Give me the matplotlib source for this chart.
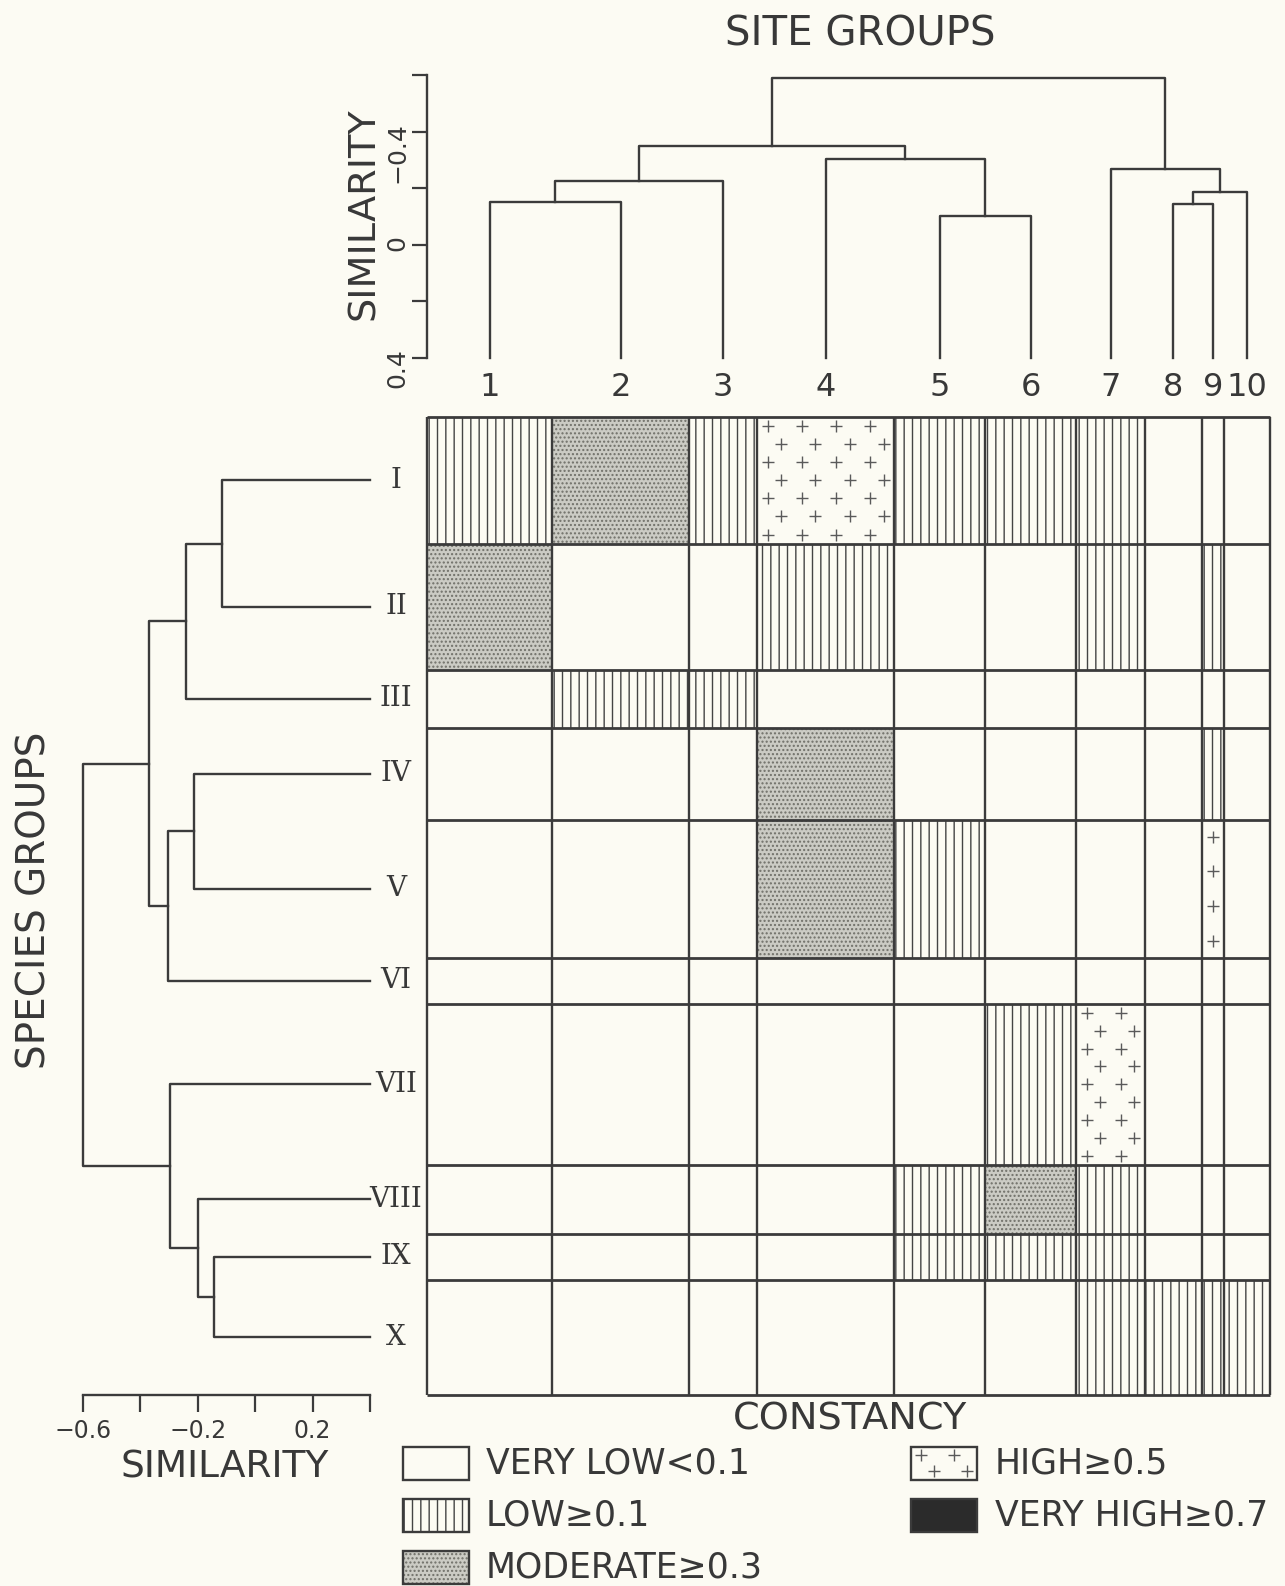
import numpy as np
import matplotlib
matplotlib.use("Agg")
import matplotlib.pyplot as plt
from matplotlib.patches import Rectangle

# ---- data ----
site_labels = ["1", "2", "3", "4", "5", "6", "7", "8", "9", "10"]
site_sizes = [11, 12, 6, 12, 8, 8, 6, 5, 2, 4]

species_labels = ["I", "II", "III", "IV", "V", "VI", "VII", "VIII", "IX", "X"]
species_sizes = [11, 11, 5, 8, 12, 4, 14, 6, 4, 10]

# constancy class: 0 very low, 1 low, 2 moderate, 3 high, 4 very high
constancy = [
    [1, 2, 1, 3, 1, 1, 1, 0, 0, 0],  # I
    [2, 0, 0, 1, 0, 0, 1, 0, 1, 0],  # II
    [0, 1, 1, 0, 0, 0, 0, 0, 0, 0],  # III
    [0, 0, 0, 2, 0, 0, 0, 0, 1, 0],  # IV
    [0, 0, 0, 2, 1, 0, 0, 0, 3, 0],  # V
    [0, 0, 0, 0, 0, 0, 0, 0, 0, 0],  # VI
    [0, 0, 0, 0, 0, 1, 3, 0, 0, 0],  # VII
    [0, 0, 0, 0, 1, 2, 1, 0, 0, 0],  # VIII
    [0, 0, 0, 0, 1, 1, 1, 0, 0, 0],  # IX
    [0, 0, 0, 0, 0, 0, 1, 1, 1, 1],  # X
]

# linkage: (child a, child b, similarity); new clusters numbered from 10
site_links = [
    (0, 1, -0.153),
    (10, 2, -0.227),
    (4, 5, -0.100),
    (3, 12, -0.302),
    (11, 13, -0.350),
    (7, 8, -0.143),
    (15, 9, -0.187),
    (6, 16, -0.268),
    (14, 17, -0.590),
]
species_links = [
    (0, 1, -0.115),
    (10, 2, -0.242),
    (3, 4, -0.214),
    (12, 5, -0.302),
    (11, 13, -0.368),
    (8, 9, -0.144),
    (7, 15, -0.200),
    (6, 16, -0.295),
    (14, 17, -0.600),
]
leaf_similarity = 0.4

sim_ticks = [-0.6, -0.4, -0.2, 0, 0.2, 0.4]
top_tick_labels = ["", "\u22120.4", "", "0", "", "0.4"]
left_tick_labels = ["\u22120.6", "", "\u22120.2", "", "0.2", ""]

legend_labels = ["VERY LOW<0.1", "LOW\u22650.1", "MODERATE\u22650.3",
                 "HIGH\u22650.5", "VERY HIGH\u22650.7"]
legend_levels = [0, 1, 2, 3, 4]

# ---- style ----
BG = "#fcfbf3"
INK = "#3b3b3b"
TXT = "#383838"
plt.rcParams["hatch.linewidth"] = 1.0
plt.rcParams["font.family"] = ["DejaVu Sans"]

W, H = 1285, 1586
fig = plt.figure(figsize=(W / 100, H / 100), dpi=100, facecolor=BG)


def fbox(x0, y0, x1, y1):
    # pixel box (y measured from top) -> figure fraction rect
    return [x0 / W, 1 - y1 / H, (x1 - x0) / W, (y1 - y0) / H]


def draw_cell(ax, x0, y0, w, h, level, dx, dy):
    if level == 1:
        ax.add_patch(Rectangle((x0, y0), w, h, facecolor="none", edgecolor="#444444",
                               hatch="||", lw=0, zorder=1))
    elif level == 2:
        ax.add_patch(Rectangle((x0, y0), w, h, facecolor="#cbcbc4", edgecolor="#707069",
                               hatch="....", lw=0, zorder=1))
    elif level == 3:
        ncols = max(1, int(round(w / dx)))
        if ncols == 1:
            nrows = max(1, int(round(h / (2 * dy))))
        else:
            nrows = max(1, int(round(h / dy)))
        xs, ys = [], []
        for j in range(nrows):
            for i in range(ncols):
                if ncols == 1:
                    xs.append(x0 + w / 2)
                else:
                    shift = 0.3 if j % 2 == 0 else 0.7
                    xs.append(x0 + (i + shift) * w / ncols)
                ys.append(y0 + (j + 0.5) * h / nrows)
        ax.plot(xs, ys, "+", ms=8, mew=1.0, color="#5a5a5a", zorder=2)
    elif level == 4:
        ax.add_patch(Rectangle((x0, y0), w, h, facecolor="#2b2b2b", lw=0, zorder=1))


def draw_dendrogram(ax, links, positions, leaf_h, orient):
    pos = list(positions)
    hgt = [leaf_h] * len(positions)
    for a, b, h in links:
        p = [pos[a], pos[a], pos[b], pos[b]]
        q = [hgt[a], h, h, hgt[b]]
        if orient == "top":
            ax.plot(p, q, color=INK, lw=1.7, clip_on=False, solid_capstyle="projecting")
        else:
            ax.plot(q, p, color=INK, lw=1.7, clip_on=False, solid_capstyle="projecting")
        pos.append((pos[a] + pos[b]) / 2)
        hgt.append(h)


site_edges = np.concatenate([[0], np.cumsum(site_sizes)])
site_centers = (site_edges[:-1] + site_edges[1:]) / 2
sp_edges = np.concatenate([[0], np.cumsum(species_sizes)])
sp_centers = (sp_edges[:-1] + sp_edges[1:]) / 2

# ---- constancy matrix ----
ax_grid = fig.add_axes(fbox(427, 417, 1270, 1395))
ax_grid.set_xlim(0, site_edges[-1])
ax_grid.set_ylim(sp_edges[-1], 0)
ax_grid.axis("off")
for i, row in enumerate(constancy):
    for j, lvl in enumerate(row):
        draw_cell(ax_grid, site_edges[j], sp_edges[i], site_sizes[j], species_sizes[i],
                  lvl, dx=2.7, dy=1.52)
ax_grid.vlines(site_edges, 0, sp_edges[-1], color=INK, lw=1.7, zorder=3, clip_on=False)
ax_grid.hlines(sp_edges, 0, site_edges[-1], color=INK, lw=2.0, zorder=3, clip_on=False)

for lab, c in zip(species_labels, sp_centers):
    ax_grid.annotate(lab, xy=(0, c), xycoords=("axes fraction", "data"),
                     xytext=(-31, 0), textcoords="offset pixels", ha="center", va="center",
                     fontsize=20, family="DejaVu Serif", color=TXT)

# ---- site dendrogram (top) ----
ax_top = fig.add_axes(fbox(427, 75, 1270, 358))
ax_top.set_xlim(0, site_edges[-1])
ax_top.set_ylim(0.4, -0.6)
ax_top.patch.set_visible(False)
for s in ["top", "right", "bottom"]:
    ax_top.spines[s].set_visible(False)
ax_top.spines["left"].set_color(INK)
ax_top.spines["left"].set_linewidth(1.7)
ax_top.set_xticks([])
ax_top.set_yticks(sim_ticks, top_tick_labels)
ax_top.tick_params(axis="y", direction="out", length=11, width=1.6, color=INK,
                   labelsize=18, labelcolor=TXT, labelrotation=90, pad=2)
draw_dendrogram(ax_top, site_links, site_centers, leaf_similarity, "top")
for lab, c in zip(site_labels, site_centers):
    ax_top.annotate(lab, xy=(c, 0), xycoords=("data", "axes fraction"),
                    xytext=(0, -29), textcoords="offset pixels", ha="center", va="center",
                    fontsize=23, color=TXT)

# ---- species dendrogram (left) ----
ax_left = fig.add_axes(fbox(82.7, 417, 370, 1395))
ax_left.set_xlim(-0.6, 0.4)
ax_left.set_ylim(sp_edges[-1], 0)
ax_left.patch.set_visible(False)
for s in ["top", "right", "left"]:
    ax_left.spines[s].set_visible(False)
ax_left.spines["bottom"].set_color(INK)
ax_left.spines["bottom"].set_linewidth(1.7)
ax_left.set_yticks([])
ax_left.set_xticks(sim_ticks, left_tick_labels)
ax_left.tick_params(axis="x", direction="out", length=12, width=1.6, color=INK,
                    labelsize=17, labelcolor=TXT, pad=5)
draw_dendrogram(ax_left, species_links, sp_centers, leaf_similarity, "left")

# ---- titles ----
fig.text(860 / W, 1 - 34 / H, "SITE GROUPS", ha="center", va="center", fontsize=29, color=TXT)
fig.text(364 / W, 1 - 214 / H, "SIMILARITY", ha="center", va="center", rotation=90,
         fontsize=27.5, color=TXT)
fig.text(35 / W, 1 - 900 / H, "SPECIES GROUPS", ha="center", va="center", rotation=90,
         fontsize=28, color=TXT)
fig.text(850 / W, 1 - 1419 / H, "CONSTANCY", ha="center", va="center", fontsize=27.5, color=TXT)
fig.text(225 / W, 1 - 1467 / H, "SIMILARITY", ha="center", va="center", fontsize=27, color=TXT)

# ---- legend (pixel coordinates) ----
ax_leg = fig.add_axes([0, 0, 1, 1])
ax_leg.set_xlim(0, W)
ax_leg.set_ylim(H, 0)
ax_leg.axis("off")
box_x = [403, 911]
text_x = [486, 995]
row_y = [1463, 1515, 1567]
bw, bh = 66, 33
for k, (lab, lvl) in enumerate(zip(legend_labels, legend_levels)):
    col, r = divmod(k, 3)
    x0, yc = box_x[col], row_y[r]
    draw_cell(ax_leg, x0, yc - bh / 2, bw, bh, lvl, dx=31, dy=17)
    ax_leg.add_patch(Rectangle((x0, yc - bh / 2), bw, bh, facecolor="none",
                               edgecolor=INK, lw=1.7, zorder=3))
    ax_leg.text(text_x[col], yc, lab, ha="left", va="center", fontsize=25, color=TXT)

fig.savefig("out.png", dpi=100, facecolor=BG)
